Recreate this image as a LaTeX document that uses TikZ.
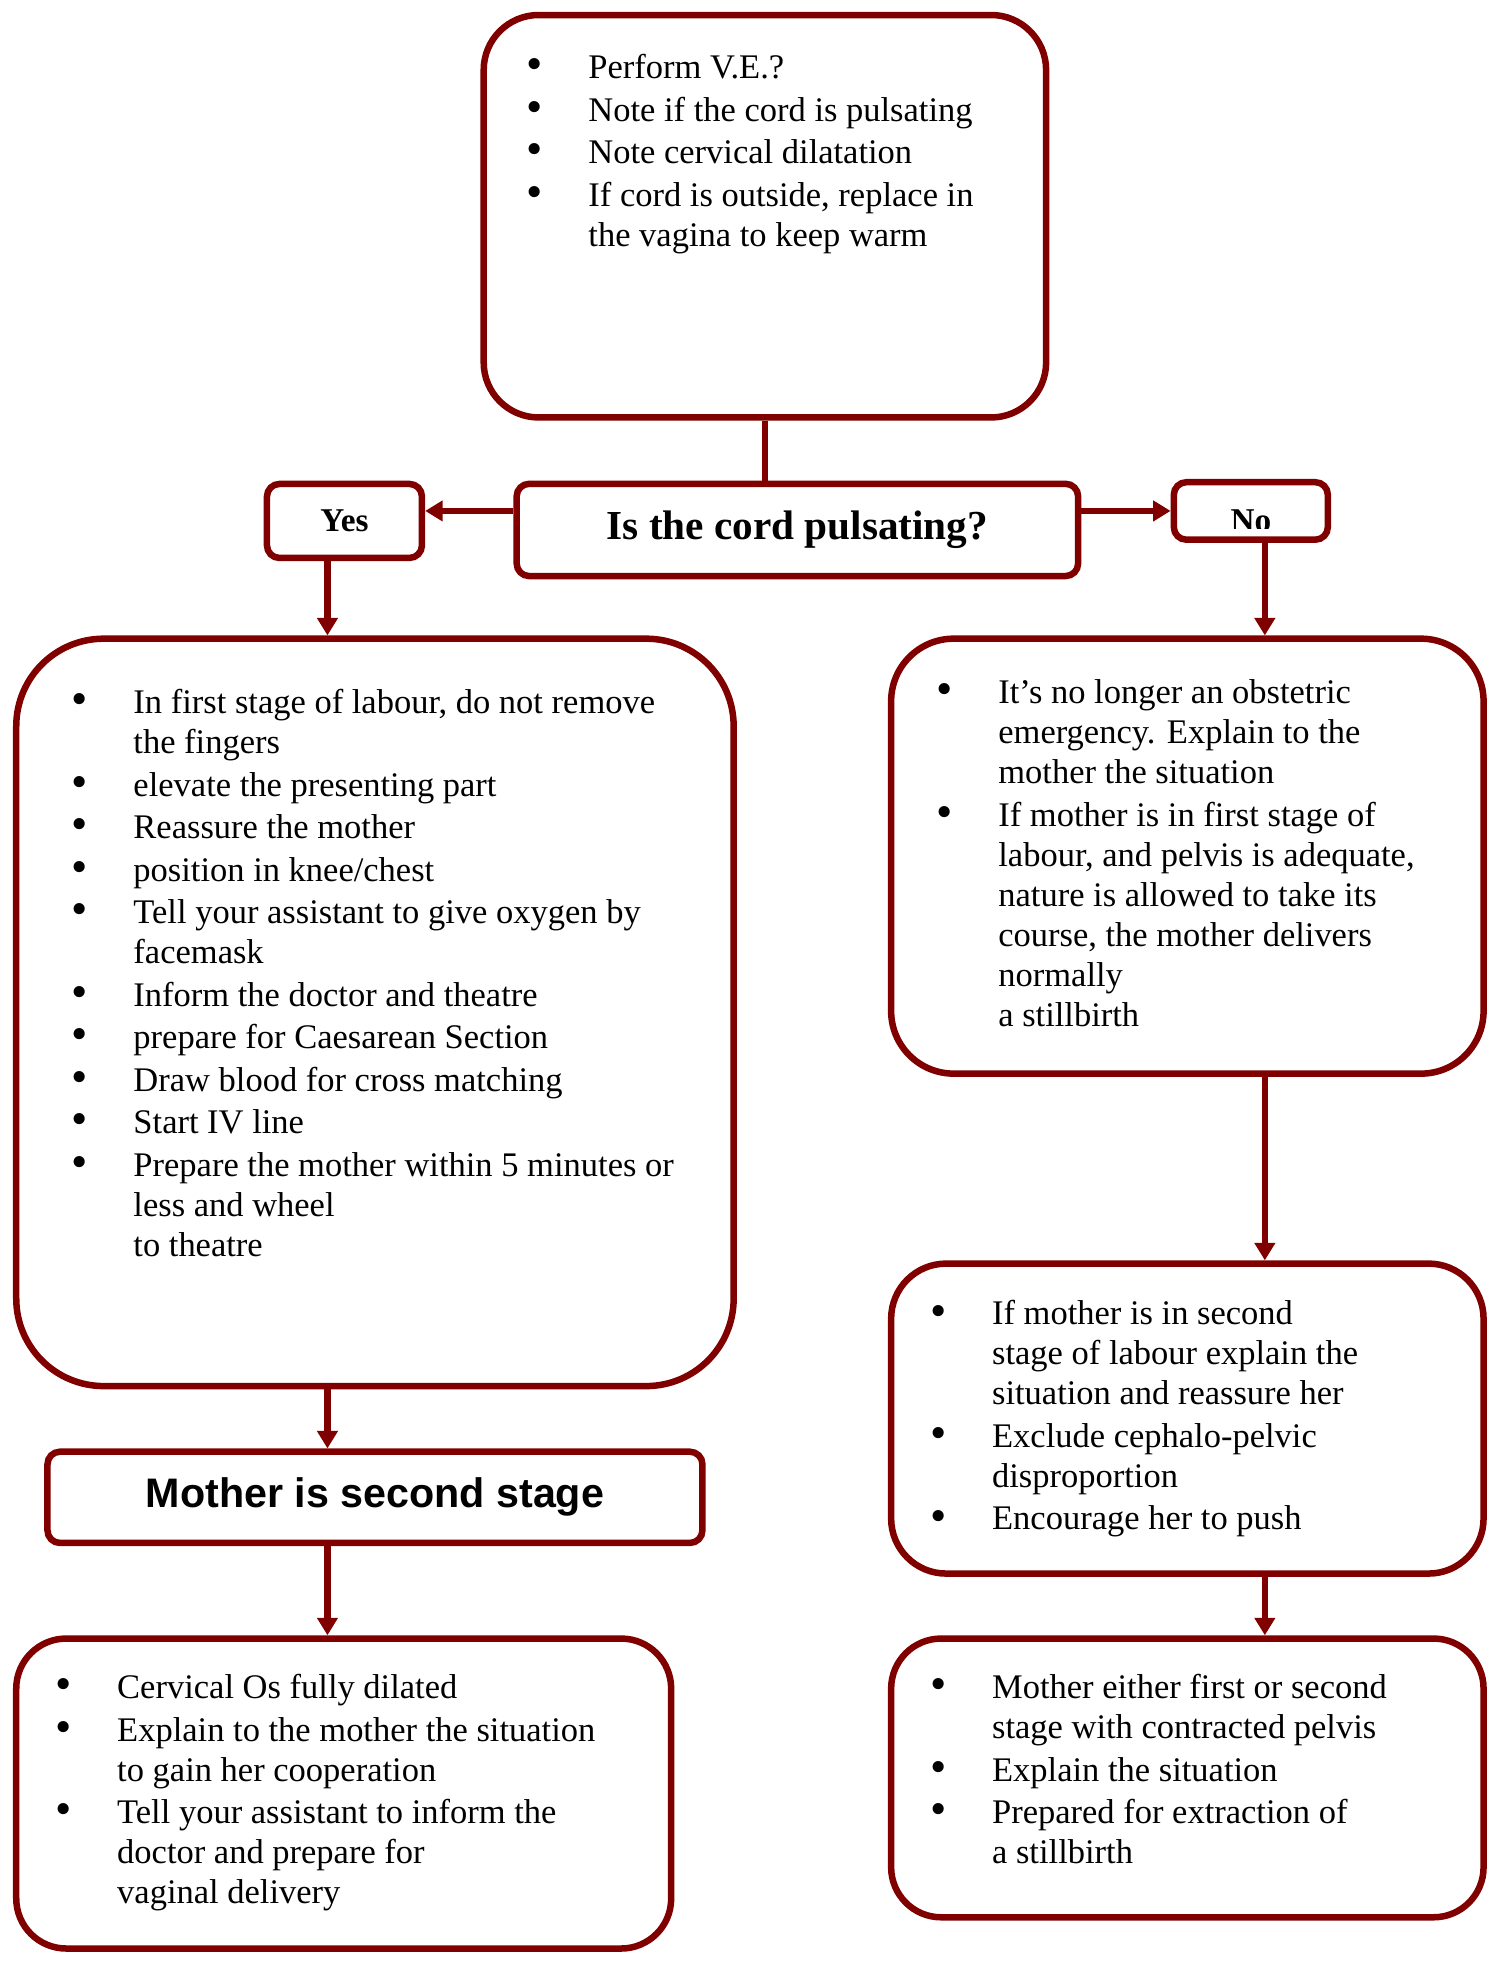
\documentclass[tikz,border=0pt]{standalone}
\usepackage{fontspec}
\usepackage{graphicx}
\setmainfont{Liberation Serif}
\setsansfont{Liberation Sans}
\usetikzlibrary{arrows.meta}
\definecolor{cordred}{RGB}{128,0,0}

% one bullet line of a box
\newcommand{\bl}[1]{\par\hangindent=23.8pt\hangafter=1\noindent\strut
  \makebox[23.8pt][l]{\hspace{-0.9pt}\raisebox{-0.5pt}{\scalebox{1.35}{\textbullet}}}#1\par}
% box text: width, height, bullet indent, top gap, lines
\newcommand{\cardbody}[5]{\parbox[c][#2][t]{#1}{\fontsize{13.8}{16}\selectfont
  \setlength{\rightskip}{0pt plus 1fil}\setlength{\parskip}{1pt}\setlength{\leftskip}{#3}\vspace*{#4}#5}}

\begin{document}
\begin{tikzpicture}[
  card/.style={draw=cordred, line width=2.6pt, fill=white, inner sep=0pt, rounded corners=#1},
  card/.default=22pt,
  tag/.style={draw=cordred, line width=2.6pt, fill=white, inner sep=0pt, rounded corners=5pt},
  arr/.style={draw=cordred, line width=2.6pt, -{Triangle[length=7pt,width=8pt]}},
  link/.style={draw=cordred, line width=2.6pt}
]
  \useasboundingbox (0,0) rectangle (600pt,-784.5pt);

  \coordinate (lcol) at (131pt,0);
  \coordinate (rcol) at (506pt,0);

  \node[card=22pt] (ve) at (306pt,-86.5pt) {\cardbody{225pt}{161pt}{18.1pt}{13.3pt}{%
    \bl{Perform V.E.?}
    \bl{Note if the cord is pulsating}
    \bl{Note cervical dilatation}
    \bl{If cord is outside, replace in\\the vagina to keep warm}}};

  \node[tag, minimum width=224.6pt, minimum height=36.9pt,
        font=\bfseries\fontsize{16.5}{19}\selectfont] (q) at (319pt,-212pt) {Is the cord pulsating?};
  \node[tag, minimum width=62pt, minimum height=29.6pt,
        font=\bfseries\fontsize{13.3}{16}\selectfont] (yes) at (137.8pt,-208.4pt) {Yes};
  \node[tag, minimum width=61.6pt, minimum height=23pt,
        path picture={
          \clip (path picture bounding box.south west) ++(0,4.6pt) rectangle (path picture bounding box.north east);
          \node[font=\bfseries\fontsize{13.3}{16}\selectfont, anchor=base] (nolabel)
            at ([yshift=-8.4pt]path picture bounding box.center) {No};
        }] (no) at (500.4pt,-204.4pt) {};

  \node[card=35pt] (first) at (150pt,-405pt) {\cardbody{287pt}{299pt}{23.1pt}{17.8pt}{%
    \bl{In first stage of labour, do not remove\\the fingers}
    \bl{elevate the presenting part}
    \bl{Reassure the mother}
    \bl{position in knee/chest}
    \bl{Tell your assistant to give oxygen by\\facemask}
    \bl{Inform the doctor and theatre}
    \bl{prepare for Caesarean Section}
    \bl{Draw blood for cross matching}
    \bl{Start IV line}
    \bl{Prepare the mother within 5 minutes or\\less and wheel\\to theatre}}};

  \node[tag, minimum width=262pt, minimum height=36.5pt,
        font=\sffamily\bfseries\fontsize{16.5}{19}\selectfont] (stage) at (150pt,-599pt) {Mother is second stage};

  \node[card=20pt] (vaginal) at (137.5pt,-717.5pt) {\cardbody{262pt}{124pt}{16.6pt}{11.8pt}{%
    \bl{Cervical Os fully dilated}
    \bl{Explain to the mother the situation\\to gain her cooperation}
    \bl{Tell your assistant to inform the\\doctor and prepare for\\vaginal delivery}}};

  \node[card=25pt] (calm) at (475pt,-342.5pt) {\cardbody{237pt}{174pt}{19.1pt}{13.8pt}{%
    \bl{It’s no longer an obstetric\\emergency. Explain to the\\mother the situation}
    \bl{If mother is in first stage of\\labour, and pelvis is adequate,\\nature is allowed to take its\\course, the mother delivers\\normally\\a stillbirth}}};

  \node[card=22pt] (push) at (475pt,-567.5pt) {\cardbody{237pt}{124pt}{16.6pt}{12.3pt}{%
    \bl{If mother is in second\\stage of labour explain the\\situation and reassure her}
    \bl{Exclude cephalo-pelvic\\disproportion}
    \bl{Encourage her to push}}};

  \node[card=20pt] (pelvis) at (475pt,-711.25pt) {\cardbody{237pt}{111.5pt}{16.6pt}{11.8pt}{%
    \bl{Mother either first or second\\stage with contracted pelvis}
    \bl{Explain the situation}
    \bl{Prepared for extraction of\\a stillbirth}}};

  % connectors
  \draw[link] (ve.south) -- (ve.south |- q.north);
  \draw[arr] (q.west |- no.west) -- (yes.east |- no.west);
  \draw[arr] (q.east |- no.west) -- (no.west);
  \draw[arr] (yes.south -| lcol) -- (first.north -| lcol);
  \draw[arr] (first.south -| lcol) -- (stage.north -| lcol);
  \draw[arr] (stage.south -| lcol) -- (vaginal.north -| lcol);
  \draw[arr] (no.south -| rcol) -- (calm.north -| rcol);
  \draw[arr] (calm.south -| rcol) -- (push.north -| rcol);
  \draw[arr] (push.south -| rcol) -- (pelvis.north -| rcol);
\end{tikzpicture}
\end{document}
